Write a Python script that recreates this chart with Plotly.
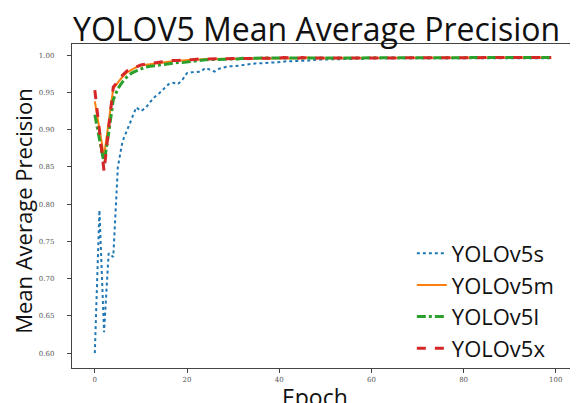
import plotly.graph_objects as go

epochs = list(range(100))

yolov5s = [
    0.600, 0.792, 0.628, 0.734, 0.729, 0.850, 0.884, 0.899, 0.913, 0.930,
    0.925, 0.929, 0.937, 0.944, 0.949, 0.955, 0.961, 0.963, 0.961, 0.967,
    0.976, 0.977, 0.977, 0.978, 0.983, 0.981, 0.978, 0.982, 0.984, 0.985,
    0.985, 0.986, 0.987, 0.987, 0.988, 0.989, 0.989, 0.990, 0.990, 0.990,
    0.991, 0.991, 0.992, 0.992, 0.992, 0.993, 0.993, 0.993, 0.994, 0.994,
    0.994, 0.994, 0.995, 0.995, 0.995, 0.995, 0.995, 0.996, 0.995, 0.996,
    0.996, 0.996, 0.996, 0.996, 0.996, 0.996, 0.996, 0.996, 0.996, 0.996,
    0.996, 0.996, 0.996, 0.996, 0.997, 0.996, 0.996, 0.996, 0.997, 0.996,
    0.996, 0.996, 0.997, 0.996, 0.996, 0.997, 0.996, 0.996, 0.996, 0.996,
    0.996, 0.996, 0.996, 0.996, 0.996, 0.996, 0.996, 0.996, 0.996, 0.996,
]

yolov5m = [
    0.938, 0.900, 0.864, 0.910, 0.955, 0.963, 0.971, 0.977, 0.981, 0.984,
    0.986, 0.987, 0.988, 0.989, 0.990, 0.991, 0.991, 0.992, 0.993, 0.993,
    0.994, 0.994, 0.994, 0.995, 0.995, 0.995, 0.995, 0.995, 0.996, 0.996,
    0.996, 0.996, 0.996, 0.996, 0.996, 0.996, 0.996, 0.996, 0.996, 0.996,
    0.996, 0.996, 0.996, 0.996, 0.996, 0.996, 0.997, 0.996, 0.996, 0.996,
    0.996, 0.996, 0.997, 0.996, 0.996, 0.996, 0.997, 0.996, 0.996, 0.997,
    0.996, 0.996, 0.997, 0.996, 0.997, 0.996, 0.996, 0.997, 0.996, 0.996,
    0.997, 0.996, 0.997, 0.996, 0.996, 0.997, 0.997, 0.996, 0.997, 0.996,
    0.997, 0.996, 0.997, 0.997, 0.996, 0.997, 0.997, 0.996, 0.997, 0.997,
    0.996, 0.997, 0.997, 0.996, 0.997, 0.997, 0.997, 0.996, 0.997, 0.997,
]

yolov5l = [
    0.920, 0.888, 0.855, 0.895, 0.940, 0.955, 0.964, 0.971, 0.976, 0.979,
    0.982, 0.984, 0.985, 0.986, 0.987, 0.988, 0.989, 0.989, 0.990, 0.990,
    0.991, 0.992, 0.993, 0.993, 0.994, 0.994, 0.994, 0.995, 0.995, 0.995,
    0.995, 0.995, 0.996, 0.995, 0.996, 0.996, 0.996, 0.996, 0.996, 0.996,
    0.996, 0.996, 0.996, 0.996, 0.996, 0.996, 0.996, 0.996, 0.997, 0.996,
    0.996, 0.996, 0.996, 0.997, 0.996, 0.996, 0.996, 0.997, 0.996, 0.996,
    0.997, 0.996, 0.996, 0.997, 0.996, 0.996, 0.997, 0.996, 0.997, 0.996,
    0.996, 0.997, 0.996, 0.997, 0.996, 0.997, 0.996, 0.997, 0.996, 0.997,
    0.997, 0.996, 0.997, 0.996, 0.997, 0.997, 0.996, 0.997, 0.997, 0.996,
    0.997, 0.997, 0.996, 0.997, 0.997, 0.997, 0.996, 0.997, 0.997, 0.997,
]

yolov5x = [
    0.953, 0.898, 0.844, 0.902, 0.957, 0.965, 0.973, 0.979, 0.982, 0.985,
    0.987, 0.988, 0.989, 0.990, 0.991, 0.991, 0.992, 0.993, 0.993, 0.994,
    0.994, 0.994, 0.995, 0.995, 0.995, 0.995, 0.996, 0.995, 0.996, 0.996,
    0.996, 0.996, 0.996, 0.996, 0.996, 0.996, 0.996, 0.996, 0.996, 0.996,
    0.996, 0.997, 0.996, 0.996, 0.996, 0.997, 0.996, 0.996, 0.997, 0.996,
    0.996, 0.997, 0.996, 0.996, 0.997, 0.996, 0.997, 0.996, 0.996, 0.997,
    0.996, 0.997, 0.996, 0.997, 0.996, 0.997, 0.996, 0.997, 0.997, 0.996,
    0.997, 0.996, 0.997, 0.997, 0.996, 0.997, 0.997, 0.996, 0.997, 0.997,
    0.996, 0.997, 0.997, 0.997, 0.996, 0.997, 0.997, 0.997, 0.996, 0.997,
    0.997, 0.997, 0.997, 0.996, 0.997, 0.997, 0.997, 0.997, 0.997, 0.997,
]

series_names = ["YOLOv5s", "YOLOv5m", "YOLOv5l", "YOLOv5x"]
series_values = [yolov5s, yolov5m, yolov5l, yolov5x]
series_colors = ["#1f77b4", "#ff7f0e", "#2ca02c", "#d62728"]
series_dash = ["dot", "solid", "dashdot", "dash"]
series_width = [2, 2, 3, 3]

x_ticks = [0, 20, 40, 60, 80, 100]
y_ticks = [0.60, 0.65, 0.70, 0.75, 0.80, 0.85, 0.90, 0.95, 1.00]

fig = go.Figure()
for name, vals, col, dash, w in zip(series_names, series_values, series_colors, series_dash, series_width):
    fig.add_trace(go.Scatter(
        x=epochs, y=vals, mode="lines", name=name,
        line=dict(color=col, dash=dash, width=w),
    ))

axis_common = dict(
    showgrid=False, zeroline=False, showline=True, mirror=True,
    linecolor="#444444", linewidth=1.3,
    ticks="outside", ticklen=4, tickcolor="#444444", tickwidth=1,
    tickfont=dict(family="DejaVu Serif", size=7, color="#555555"),
)

fig.update_layout(
    width=570, height=395,
    margin=dict(l=64, r=4, t=36, b=35),
    paper_bgcolor="white", plot_bgcolor="white",
    showlegend=True,
    legend=dict(
        x=0.677, y=0.418, xanchor="left", yanchor="top",
        font=dict(family="Open Sans", size=22, color="#111111"),
        bgcolor="rgba(255,255,255,0)", borderwidth=0,
        tracegroupgap=0,
    ),
    xaxis=dict(range=[-4.95, 103.95], tickvals=x_ticks, ticklabelstandoff=0, **axis_common),
    yaxis=dict(range=[0.58, 1.015], tickvals=y_ticks, tickformat=".2f", ticklabelstandoff=11, **axis_common),
    annotations=[
        dict(text="YOLOV5 Mean Average Precision", xref="paper", yref="paper",
             x=0.488, y=1.0, yanchor="bottom", yshift=-8, xanchor="center", showarrow=False,
             font=dict(family="Open Sans", size=32, color="#111111")),
        dict(text="Epoch", xref="paper", yref="paper", x=0.484, y=0, yanchor="top",
             yshift=-11, xanchor="center", showarrow=False,
             font=dict(family="Open Sans", size=23, color="#111111")),
        dict(text="Mean Average Precision", xref="paper", yref="paper", x=0, y=0.485,
             xanchor="right", xshift=-32, yanchor="middle", textangle=-90, showarrow=False,
             font=dict(family="Open Sans", size=22, color="#111111")),
    ],
)

fig.write_html("out.html")
